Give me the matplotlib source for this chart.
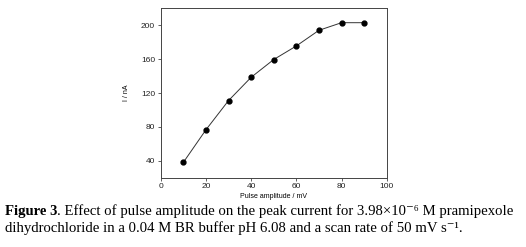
import matplotlib
matplotlib.use("Agg")
import matplotlib.pyplot as plt

pulse_amplitude = [10, 20, 30, 40, 50, 60, 70, 80, 90]
current_nA = [38, 76.5, 111, 138.5, 159.5, 175.5, 194, 203, 203]
x_ticks = [0, 20, 40, 60, 80, 100]
y_ticks = [40, 80, 120, 160, 200]

fig = plt.figure(figsize=(5.26, 2.47), dpi=100)
W, H = 526, 247
ax = fig.add_axes([160.7 / W, 1 - 177.7 / H, (386.7 - 160.7) / W, (177.7 - 8.3) / H])
ax.plot(pulse_amplitude, current_nA, color='#333333', lw=0.7, marker='o', ms=3.5,
        mfc='black', mec='black')
ax.set_xlim(0, 100)
ax.set_ylim(20, 220)
ax.set_xticks(x_ticks)
ax.set_yticks(y_ticks)
for s in ax.spines.values():
    s.set_linewidth(0.7)
    s.set_color('#444444')
ax.tick_params(labelsize=6, length=2, width=0.6, colors='#444444', labelcolor='#222222',
               pad=2)
for lab in ax.get_xticklabels() + ax.get_yticklabels():
    lab.set_family('Liberation Sans')
ax.set_xlabel('Pulse amplitude / mV', fontsize=5, family='Liberation Sans', labelpad=2)
ax.set_ylabel('I / nA', fontsize=5, family='Liberation Sans', labelpad=8)

fam = ['Liberation Serif', 'DejaVu Serif']
fs = 10.6
y1 = 1 - 211 / H
y2 = 1 - 228 / H
t0 = fig.text(5 / W, y1, 'Figure 3', fontsize=fs, family=fam, weight='bold',
              va='center', ha='left')
fig.canvas.draw()
bb = t0.get_window_extent(renderer=fig.canvas.get_renderer())
fig.text(bb.x1 / W, y1,
         '. Effect of pulse amplitude on the peak current for 3.98×10\u207b\u2076 M pramipexole',
         fontsize=fs, family=fam, va='center', ha='left')
fig.text(5 / W, y2,
         'dihydrochloride in a 0.04 M BR buffer pH 6.08 and a scan rate of 50 mV s\u207b\u00b9.',
         fontsize=fs, family=fam, va='center', ha='left')

fig.savefig('out.png', dpi=100)
